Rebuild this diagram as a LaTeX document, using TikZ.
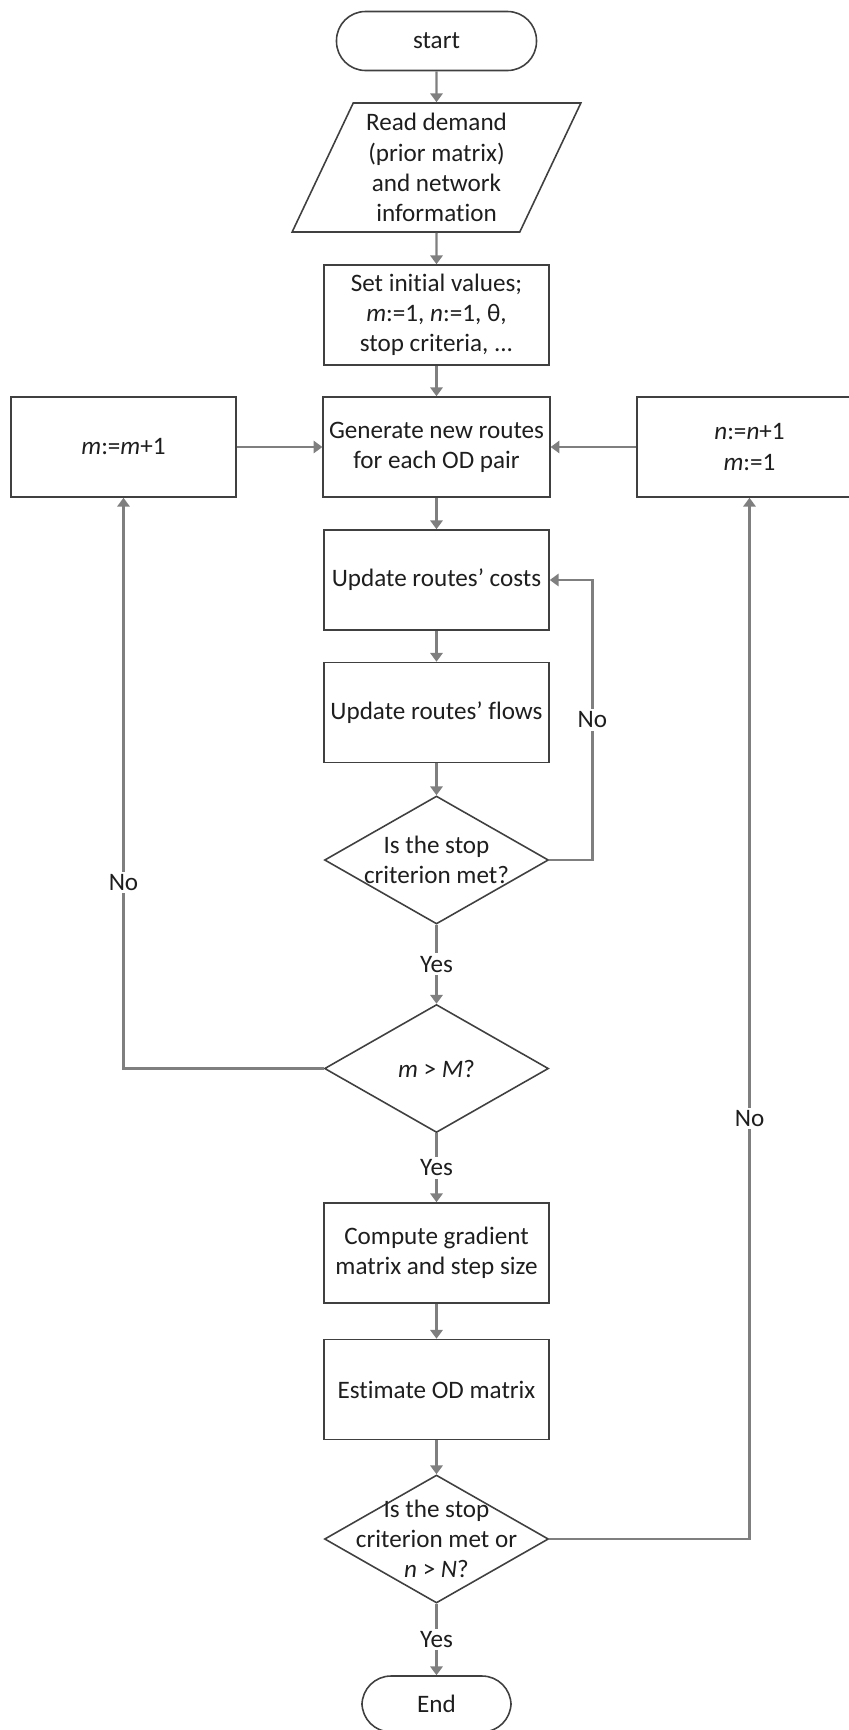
\documentclass[tikz,border=0pt]{standalone}
\usepackage{fontspec}
\setmainfont{Carlito}[Ligatures={NoCommon}]
\usepackage{tikz}
\usetikzlibrary{shapes.geometric,arrows.meta}

\definecolor{boxgrey}{HTML}{404040}
\definecolor{linegrey}{HTML}{7F7F7F}
\definecolor{textdark}{HTML}{1E1E1E}

\tikzset{
    every node/.style={font=\fontsize{14.3}{17.2}\selectfont, text=textdark},
    box/.style={draw=boxgrey, line width=0.9pt, minimum width=4.5cm, minimum height=2cm, align=center},
    term/.style={draw=boxgrey, line width=0.9pt, rounded corners=0.58cm, minimum height=1.18cm},
    io/.style={trapezium, trapezium left angle=65, trapezium right angle=115, trapezium stretches=true,
        draw=boxgrey, line width=0.9pt, minimum width=5.78cm, minimum height=2.58cm, align=center},
    dec/.style={diamond, draw=boxgrey, line width=0.9pt, minimum width=4.48cm, minimum height=2.56cm, inner sep=0pt},
    flow/.style={draw=linegrey, line width=1.4pt, -{Triangle[length=5pt,width=7pt]}},
    lbl/.style={fill=white, inner sep=1.5pt}
}

\begin{document}
\begin{tikzpicture}[]
    \useasboundingbox (0,0) rectangle (16.98,-34.6);

    % draw main column
    \node[term, minimum width=4cm] (start) at (8.73,-0.82) {start};
    \node[io] (read) at (8.73,-3.35) {Read demand\\(prior matrix)\\and network\\information};
    \node[box] (init) at (8.73,-6.3) {Set initial values;\\\textit{m}:=1, \textit{n}:=1, θ,\\stop criteria, ...};
    \node[box] (gen) at (8.73,-8.94) {Generate new routes\\for each OD pair};
    \node[box] (costs) at (8.73,-11.6) {Update routes’ costs};
    \node[box] (flows) at (8.73,-14.25) {Update routes’ flows};
    \node[dec, label={[align=center]center:Is the stop\\criterion met?}] (stopA) at (8.73,-17.2) {};
    \node[dec, label={center:\textit{m} > \textit{M}?}] (mtest) at (8.73,-21.37) {};
    \node[box] (grad) at (8.73,-25.06) {Compute gradient\\matrix and step size};
    \node[box] (estim) at (8.73,-27.79) {Estimate OD matrix};
    \node[dec, label={[align=center]center:Is the stop\\criterion met or\\\textit{n} > \textit{N}?}] (stopB) at (8.73,-30.78) {};
    \node[term, minimum width=2.98cm, minimum height=1.12cm] (end) at (8.73,-34.08) {End};

    % draw side boxes
    \node[box] (mup) at (2.47,-8.94) {\textit{m}:=\textit{m}+1};
    \node[box] (nup) at (14.99,-8.94) {\textit{n}:=\textit{n}+1\\\textit{m}:=1};

    % draw arrows
    \draw[flow] (start) -- (read);
    \draw[flow] (read) -- (init);
    \draw[flow] (init) -- (gen);
    \draw[flow] (gen) -- (costs);
    \draw[flow] (costs) -- (flows);
    \draw[flow] (flows) -- (stopA);
    \draw[flow] (stopA) -- node[lbl] {Yes} (mtest);
    \draw[flow] (mtest) -- node[lbl] {Yes} (grad);
    \draw[flow] (grad) -- (estim);
    \draw[flow] (estim) -- (stopB);
    \draw[flow] (stopB) -- node[lbl] {Yes} (end);
    \draw[flow] (mup) -- (gen);
    \draw[flow] (nup) -- (gen);

    % draw loops
    \draw[flow] (stopA.east) -- ++(0.86,0) |- node[lbl,pos=0.25] {No} (costs.east);
    \draw[flow] (mtest.west) -| node[lbl,pos=0.663] {No} (mup.south);
    \draw[flow] (stopB.east) -| node[lbl,pos=0.702] {No} (nup.south);
\end{tikzpicture}
\end{document}
